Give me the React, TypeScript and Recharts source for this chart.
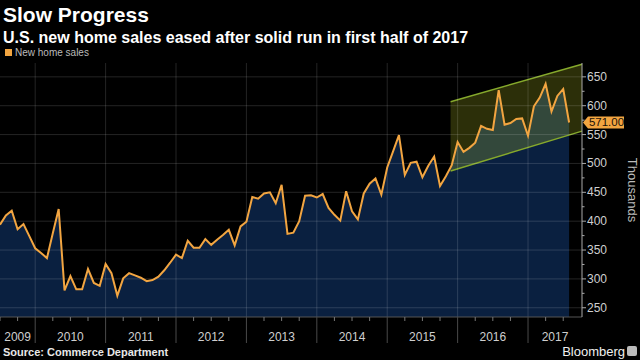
import React from 'react';
import {
    ComposedChart,
    Area,
    Line,
    XAxis,
    YAxis,
    ReferenceLine,
    ReferenceDot,
} from 'recharts';

// Monthly new home sales (thousands, SAAR), Jun 2009 .. Jul 2017
const sales = [
    394, 410, 418, 386, 395, 374, 353, 345, 336, 379,
    421, 280, 305, 282, 282, 317, 293, 288, 326, 310,
    271, 301, 310, 306, 302, 296, 298, 304, 315, 328,
    342, 336, 366, 354, 354, 369, 359, 368, 376, 385,
    358, 391, 399, 442, 439, 448, 450, 431, 463, 378,
    380, 400, 444, 445, 441, 447, 423, 411, 401, 452,
    417, 403, 448, 465, 474, 446, 493, 521, 549, 480,
    501, 503, 476, 496, 512, 461, 478, 497, 537, 520,
    527, 536, 565, 560, 558, 627, 567, 570, 577, 578,
    548, 599, 614, 638, 590, 617, 629, 571,
];

// trend channel drawn on the chart (month index, lower / upper bound)
const channelX = [76.8, 99.2];
const channelLow = [487, 556];
const channelHigh = [607, 672];

const years = ['2009', '2010', '2011', '2012', '2013', '2014', '2015', '2016', '2017'];
const yTicks = [250, 275, 300, 325, 350, 375, 400, 425, 450, 475, 500, 525, 550, 575, 600, 625, 650];
const gridValues = [250, 300, 350, 400, 450, 500, 550, 600, 650];

const X_MAX = 99.2;
const Y_MIN = 234;
const Y_MAX = 674;

const ORANGE = '#f2a541';
const NAVY = '#0b2347';

const data: { t: number; sales?: number; channel?: number[] }[] = sales.map((v, i) => ({ t: i, sales: v }));
channelX.forEach((t, i) => data.push({ t, channel: [channelLow[i], channelHigh[i]] }));

// year boundaries: Jan 1 of 2010.. sits at month index 6, 18, ...
const yearBounds = years.slice(1).map((_, i) => 6 + i * 12);
const labelPos = new Map<number, string>();
years.forEach((y, i) => {
    const from = Math.max(0, 6 + (i - 1) * 12);
    const to = Math.min(X_MAX, 6 + i * 12);
    labelPos.set(Math.round(((from + to) / 2) * 10) / 10, y);
});
const quarterTicks: number[] = [];
for (let t = 0; t <= 97; t += 3) quarterTicks.push(t);
const xTicks = Array.from(new Set([...quarterTicks, ...labelPos.keys()])).sort((a, b) => a - b);

const XTick = (props: any) => {
    const { x, y, payload } = props;
    const v = payload.value as number;
    const label = labelPos.get(v);
    const isQuarter = quarterTicks.includes(v);
    const isYear = yearBounds.includes(v);
    return (
        <g>
            {isQuarter && (
                <line
                    x1={x}
                    x2={x}
                    y1={y}
                    y2={y + (isYear ? 26 : 4)}
                    stroke={isYear ? '#4a4a4a' : '#777'}
                    strokeWidth={1}
                />
            )}
            {label && (
                <text x={x} y={y + 24} textAnchor="middle" fill="#cfcfcf" fontSize={12}>
                    {label}
                </text>
            )}
        </g>
    );
};

const YTick = (props: any) => {
    const { x, y, payload } = props;
    const major = payload.value % 50 === 0;
    return (
        <g>
            <line x1={x} x2={x + (major ? 4 : 2.5)} y1={y} y2={y} stroke="#aaa" strokeWidth={1} />
            {major && (
                <text x={x + 5} y={y + 4} fill="#cfcfcf" fontSize={12}>
                    {payload.value}
                </text>
            )}
        </g>
    );
};

const LastValueTag = (props: any) => {
    const { cx, cy } = props;
    const x0 = cx + 1;
    const h = 12;
    return (
        <g>
            <path
                d={`M${x0},${cy} L${x0 + 5},${cy - h / 2} L${x0 + 41},${cy - h / 2} L${x0 + 41},${cy + h / 2} L${x0 + 5},${cy + h / 2} Z`}
                fill={ORANGE}
            />
            <text x={x0 + 23.5} y={cy + 4} textAnchor="middle" fill="#1a1208" fontSize={11.5}>
                {sales[sales.length - 1].toFixed(2)}
            </text>
        </g>
    );
};

const font = '"Liberation Sans", Arial, sans-serif';

export default function App() {
    return (
        <div
            style={{
                position: 'fixed',
                left: 0,
                top: 0,
                width: 640,
                height: 360,
                background: '#000',
                overflow: 'hidden',
                fontFamily: font,
            }}
        >
            <div style={{ position: 'absolute', left: 3, top: 4, fontSize: 21, lineHeight: 1, fontWeight: 700, color: '#fff' }}>
                Slow Progress
            </div>
            <div style={{ position: 'absolute', left: 3, top: 30, fontSize: 16, lineHeight: 1, fontWeight: 700, color: '#fff' }}>
                U.S. new home sales eased after solid run in first half of 2017
            </div>
            <div style={{ position: 'absolute', left: 5, top: 47, display: 'flex', alignItems: 'center', fontSize: 10, color: '#bbb' }}>
                <span style={{ display: 'inline-block', width: 7, height: 7, background: ORANGE, marginRight: 3 }} />
                New home sales
            </div>

            <div style={{ position: 'absolute', left: 0, top: 0 }}>
                <ComposedChart width={640} height={360} data={data} margin={{ top: 63, right: 0, bottom: 0, left: 0 }}>
                    <XAxis
                        dataKey="t"
                        type="number"
                        domain={[0, X_MAX]}
                        ticks={xTicks}
                        interval={0}
                        tick={<XTick />}
                        tickLine={false}
                        tickSize={0}
                        tickMargin={0}
                        axisLine={{ stroke: '#555' }}
                        height={43}
                    />
                    <YAxis
                        orientation="right"
                        type="number"
                        domain={[Y_MIN, Y_MAX]}
                        ticks={yTicks}
                        interval={0}
                        tick={<YTick />}
                        tickLine={false}
                        tickSize={0}
                        tickMargin={0}
                        axisLine={{ stroke: '#aaa' }}
                        width={58}
                    />

                    <Area
                        dataKey="sales"
                        stroke="none"
                        fill={NAVY}
                        fillOpacity={0.9}
                        isAnimationActive={false}
                    />

                    {gridValues.map((v) => (
                        <ReferenceLine key={`h${v}`} y={v} stroke="#fff" strokeOpacity={0.14} />
                    ))}
                    {yearBounds.map((t) => (
                        <ReferenceLine key={`v${t}`} x={t} stroke="#fff" strokeOpacity={0.14} />
                    ))}

                    <Line
                        dataKey="sales"
                        stroke={ORANGE}
                        strokeWidth={2}
                        dot={false}
                        activeDot={false}
                        isAnimationActive={false}
                    />

                    <Area
                        dataKey="channel"
                        stroke="#86a92c"
                        strokeWidth={1.5}
                        fill="#c9d82a"
                        fillOpacity={0.22}
                        connectNulls
                        isAnimationActive={false}
                    />

                    <ReferenceDot
                        x={X_MAX}
                        y={sales[sales.length - 1]}
                        ifOverflow="visible"
                        shape={<LastValueTag />}
                    />
                </ComposedChart>
            </div>

            <div
                style={{
                    position: 'absolute',
                    left: 632,
                    top: 190,
                    transform: 'translate(-50%, -50%) rotate(90deg)',
                    whiteSpace: 'nowrap',
                    fontSize: 13,
                    lineHeight: 1,
                    color: '#bbb',
                }}
            >
                Thousands
            </div>

            <div style={{ position: 'absolute', left: 3, top: 346, fontSize: 11, fontWeight: 700, color: '#e8e8e8' }}>
                Source: Commerce Department
            </div>
            <div style={{ position: 'absolute', right: 15, top: 344, fontSize: 13, color: '#f0f0f0' }}>
                Bloomberg
            </div>
            <div
                style={{
                    position: 'absolute',
                    right: 3,
                    top: 346,
                    width: 10,
                    height: 10,
                    background: '#bbb',
                    borderRadius: 2,
                }}
            />
        </div>
    );
}
